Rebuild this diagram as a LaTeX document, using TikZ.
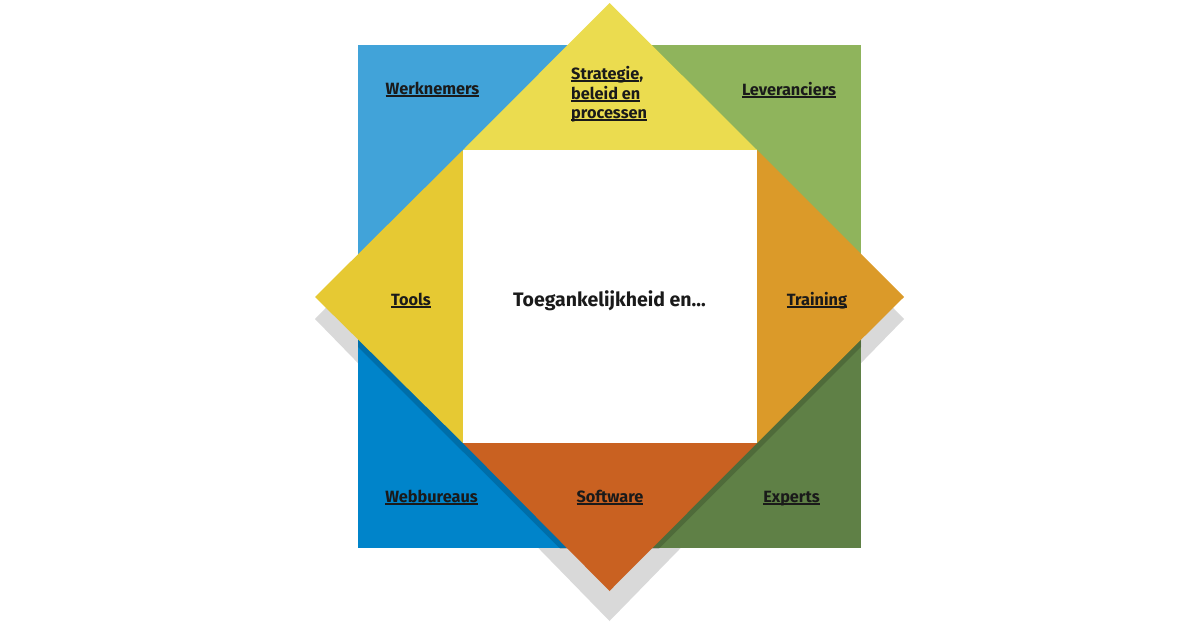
\documentclass[tikz,border=0pt]{standalone}
\usepackage{fontspec}
\setmainfont{Fira Sans}
\definecolor{tlblue}{HTML}{41A3D9}
\definecolor{trgreen}{HTML}{8FB45C}
\definecolor{blblue}{HTML}{0084CA}
\definecolor{brgreen}{HTML}{5F8046}
\definecolor{topyel}{HTML}{EBDC4F}
\definecolor{leftyel}{HTML}{E6C933}
\definecolor{rightor}{HTML}{DB9A29}
\definecolor{botor}{HTML}{C96121}
\definecolor{shadowgray}{HTML}{D9D9D9}
\definecolor{txt}{HTML}{1A1A1A}
\newcommand{\myul}[1]{\setbox0\hbox{#1}\rlap{\rule[-2.8pt]{\wd0}{1.4pt}}\box0}
\tikzset{
  lbl/.style={anchor=base, inner sep=0pt, text=txt, font=\bfseries\fontsize{16.3}{20}\selectfont},
  ctr/.style={anchor=base, inner sep=0pt, text=txt, font=\bfseries\fontsize{19.5}{23}\selectfont},
}
\begin{document}
\begin{tikzpicture}[x=1pt,y=-1pt]
\useasboundingbox (0,0) rectangle (1200,627);
% shadow of the diamond on the page
\fill[shadowgray] (609.5,17) -- (904,319) -- (609.5,621) -- (315,319) -- cycle;
% outer square quadrants
\fill[tlblue] (358,45) rectangle (609.5,297);
\fill[trgreen] (609.5,45) rectangle (861,297);
\fill[blblue] (358,297) rectangle (609.5,548);
\fill[brgreen] (609.5,297) rectangle (861,548);
% thin shadow on the square
\begin{scope}
\clip (358,45) rectangle (861,548);
\fill[black, opacity=0.16] (609.5,10) -- (904,304) -- (609.5,598) -- (315,304) -- cycle;
\end{scope}
% diamond triangles
\fill[topyel] (463,150) -- (609.5,3) -- (757,150) -- cycle;
\fill[rightor] (757,150) -- (904,297) -- (757,443) -- cycle;
\fill[botor] (757,443) -- (609.5,591) -- (463,443) -- cycle;
\fill[leftyel] (463,443) -- (315,297) -- (463,150) -- cycle;
% centre
\fill[white] (463,150) rectangle (757,443);
% labels
\node[lbl] (werk) at (432.5,94) {\myul{Werknemers}};
\node[lbl] (lev) at (789,95) {\myul{Leveranciers}};
\node[lbl, anchor=base west] (strat1) at (571,79) {\myul{Strategie},};
\node[lbl, anchor=base west] (strat2) at (571,99) {\myul{beleid en}};
\node[lbl, anchor=base west] (strat3) at (571,118) {\myul{processen}};
\node[lbl] (tools) at (411,305) {\myul{Tools}};
\node[lbl] (train) at (817,305) {\myul{Training}};
\node[lbl] (web) at (431.5,502) {\myul{Webbureaus}};
\node[lbl] (soft) at (610,502) {\myul{Software}};
\node[lbl] (exp) at (791.5,502) {\myul{Experts}};
\node[ctr] (center) at (609.5,306) {Toegankelijkheid en...};
\end{tikzpicture}
\end{document}
